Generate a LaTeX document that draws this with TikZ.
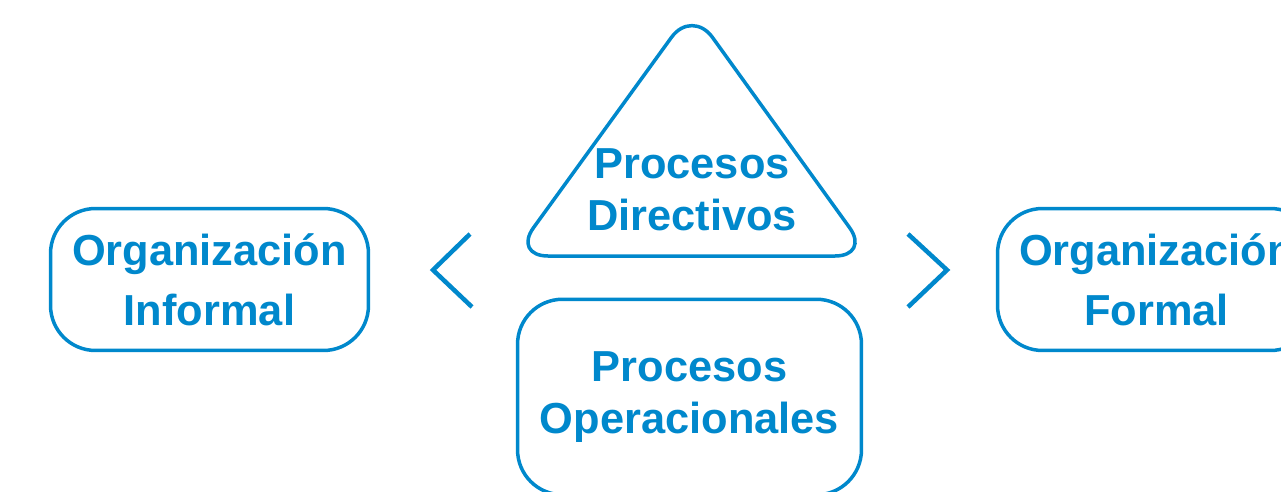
\documentclass[tikz,border=0pt]{standalone}
\usepackage{fontspec}
\setmainfont{Liberation Sans}
\usepackage{xcolor}
\definecolor{orgblue}{HTML}{0088CC}

\tikzset{
  orgbox/.style={draw=orgblue, line width=0.07cm, rounded corners=0.9cm,
    align=center, text=orgblue, inner sep=0pt,
    font=\bfseries\fontsize{24.7}{34.1}\selectfont},
  procbox/.style={orgbox, font=\bfseries\fontsize{24.7}{29.6}\selectfont},
  chev/.style={draw=orgblue, line width=0.09cm, line join=miter},
}

\begin{document}
\begin{tikzpicture}[x=0.02cm,y=0.02cm]
\useasboundingbox (0,0) rectangle (1281,491);
\fill[white] (0,0) rectangle (1281,491);
\clip (0,0) rectangle (1281,491);

% side boxes
\node[orgbox, minimum width=6.36cm, minimum height=2.84cm] (inf) at (209.5,211.5) {Organización\\Informal};
\node[orgbox, minimum width=6.36cm, minimum height=2.84cm] (form) at (1156.5,211.5) {Organización\\Formal};

% triangle on top
\draw[orgblue, line width=0.07cm, rounded corners=0.7cm] (513,235) -- (870,235) -- (692,482) -- cycle;
\node[align=center, text=orgblue, inner sep=0pt, font=\bfseries\fontsize{24.7}{29.6}\selectfont] (dir) at (692,301) {Procesos\\Directivos};

% box below
\node[procbox, minimum width=6.88cm, minimum height=3.91cm] (ope) at (689.5,94) {Procesos\\Operacionales};

% chevrons
\draw[chev] (470,257) -- (433,221) -- (472,184);
\draw[chev] (908,257) -- (947,221) -- (908,184);
\end{tikzpicture}
\end{document}
